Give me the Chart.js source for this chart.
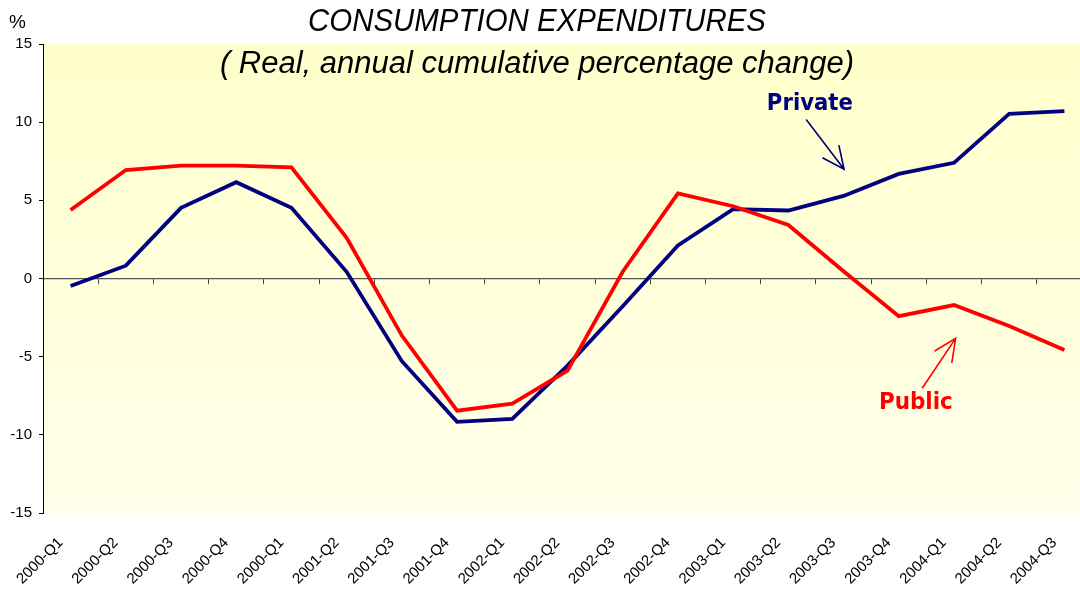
<!DOCTYPE html>
<html><head><meta charset="utf-8">
<script src="https://cdn.jsdelivr.net/npm/chart.js@4/dist/chart.umd.min.js"></script>
<style>
html,body{margin:0;padding:0;background:#fff;overflow:hidden;width:1080px;height:592px}
#wrap{width:1080px;height:592px;overflow:hidden;position:relative}
canvas{display:block}
</style></head><body><div id="wrap"><canvas id="c" width="1100" height="592"></canvas></div>
<script>
const categories = ['2000-Q1','2000-Q2','2000-Q3','2000-Q4','2000-Q1','2001-Q2','2001-Q3','2001-Q4','2002-Q1','2002-Q2','2002-Q3','2002-Q4','2003-Q1','2003-Q2','2003-Q3','2003-Q4','2004-Q1','2004-Q2','2004-Q3'];
const privateValues = [-0.48, 0.82, 4.52, 6.16, 4.52, 0.43, -5.29, -9.17, -8.98, -5.57, -1.77, 2.11, 4.44, 4.35, 5.28, 6.69, 7.4, 10.53, 10.7];
const publicValues  = [4.38, 6.94, 7.22, 7.22, 7.11, 2.6, -3.65, -8.45, -8.0, -5.9, 0.43, 5.45, 4.62, 3.42, 0.46, -2.41, -1.7, -3.04, -4.58];
const yTickValues = [-15, -10, -5, 0, 5, 10, 15];
const titleText = 'CONSUMPTION EXPENDITURES';
const subtitleText = '( Real, annual cumulative percentage change)';
const unitText = '%';
const privateLabel = 'Private';
const publicLabel = 'Public';

const NAVY = '#000080', RED = '#FF0000';

function arrow(ctx, x1, y1, x2, y2, color) {
  const ang = Math.atan2(y1 - y2, x1 - x2);
  const L = 24, spread = 25 * Math.PI / 180;
  ctx.save();
  ctx.strokeStyle = color; ctx.lineWidth = 1.6; ctx.lineCap = 'round';
  ctx.beginPath();
  ctx.moveTo(x1, y1); ctx.lineTo(x2, y2);
  ctx.moveTo(x2 + L * Math.cos(ang + spread), y2 + L * Math.sin(ang + spread));
  ctx.lineTo(x2, y2);
  ctx.lineTo(x2 + L * Math.cos(ang - spread), y2 + L * Math.sin(ang - spread));
  ctx.stroke();
  ctx.restore();
}

const decor = {
  id: 'decor',
  beforeDraw(chart) {
    const {ctx, chartArea: a} = chart;
    const g = ctx.createLinearGradient(0, a.top, 0, a.bottom);
    g.addColorStop(0, '#FFFFCC');
    g.addColorStop(1, '#FFFFEA');
    ctx.save();
    ctx.fillStyle = g;
    ctx.fillRect(a.left, a.top, a.right - a.left, a.bottom - a.top);
    ctx.restore();
  },
  afterDraw(chart) {
    const {ctx} = chart;
    const xs = chart.scales.x, ys = chart.scales.y;
    ctx.save();
    ctx.fillStyle = '#000';
    ctx.textAlign = 'center';
    ctx.textBaseline = 'alphabetic';
    ctx.font = 'italic 31px "Liberation Sans Narrow", "Liberation Sans", Arial, sans-serif';
    ctx.fillText(titleText, 537, 31, 458);
    ctx.fillText(subtitleText, 537, 73, 652);
    ctx.font = '19px "Liberation Sans", Arial, sans-serif';
    ctx.textAlign = 'left';
    ctx.fillText(unitText, 9, 28);
    // labels
    ctx.font = 'bold 23px "DejaVu Sans", Verdana, sans-serif';
    ctx.textAlign = 'center';
    ctx.textBaseline = 'middle';
    ctx.fillStyle = NAVY;
    ctx.fillText(privateLabel, xs.getPixelForValue(13.39), ys.getPixelForValue(11.16), 86);
    ctx.fillStyle = RED;
    ctx.fillText(publicLabel, xs.getPixelForValue(15.31), ys.getPixelForValue(-7.97), 74);
    ctx.restore();
    arrow(ctx, xs.getPixelForValue(13.33), ys.getPixelForValue(10.14), xs.getPixelForValue(14.01), ys.getPixelForValue(6.99), NAVY);
    arrow(ctx, xs.getPixelForValue(15.43), ys.getPixelForValue(-6.99), xs.getPixelForValue(16.03), ys.getPixelForValue(-3.83), RED);
  }
};

const tickFont = {family: '"Liberation Sans", Arial, sans-serif', size: 15};

new Chart(document.getElementById('c'), {
  type: 'line',
  data: {
    labels: categories,
    datasets: [
      {label: privateLabel, data: privateValues, borderColor: NAVY, borderWidth: 3.8, pointRadius: 0, tension: 0, fill: false, order: 1, xAxisID: 'x', yAxisID: 'y'},
      {label: publicLabel, data: publicValues, borderColor: RED, borderWidth: 3.8, pointRadius: 0, tension: 0, fill: false, order: 0, xAxisID: 'x', yAxisID: 'y'}
    ]
  },
  options: {
    responsive: false,
    animation: false,
    devicePixelRatio: 1,
    layout: {padding: {top: 44, left: 0, right: 8, bottom: 0}},
    plugins: {legend: {display: false}, tooltip: {enabled: false}, title: {display: false}},
    scales: {
      x: {
        type: 'category',
        position: 'bottom',
        offset: true,
        grid: {display: false},
        border: {display: false},
        ticks: {autoSkip: false, minRotation: 45, maxRotation: 45, color: '#000', padding: 13, labelOffset: -10, font: {family: '"Liberation Sans", Arial, sans-serif', size: 15}},
        afterFit(s) { s.height = 79; }
      },
      x0: {
        type: 'category',
        position: {y: 0},
        offset: true,
        grid: {display: true, offset: true, drawOnChartArea: false, drawTicks: true, tickLength: 5, color: '#444', lineWidth: 1},
        border: {display: true, color: '#555', width: 1.2},
        ticks: {display: false}
      },
      y: {
        type: 'linear',
        position: 'left',
        min: -15, max: 15,
        afterBuildTicks(s) { s.ticks = yTickValues.map(v => ({value: v})); },
        grid: {display: true, drawOnChartArea: false, drawTicks: true, tickLength: 4, color: '#000'},
        border: {display: true, color: '#000', width: 1},
        ticks: {color: '#000', padding: 7, font: tickFont},
        afterFit(s) { s.width = 43; }
      }
    }
  },
  plugins: [decor]
});
</script></body></html>
